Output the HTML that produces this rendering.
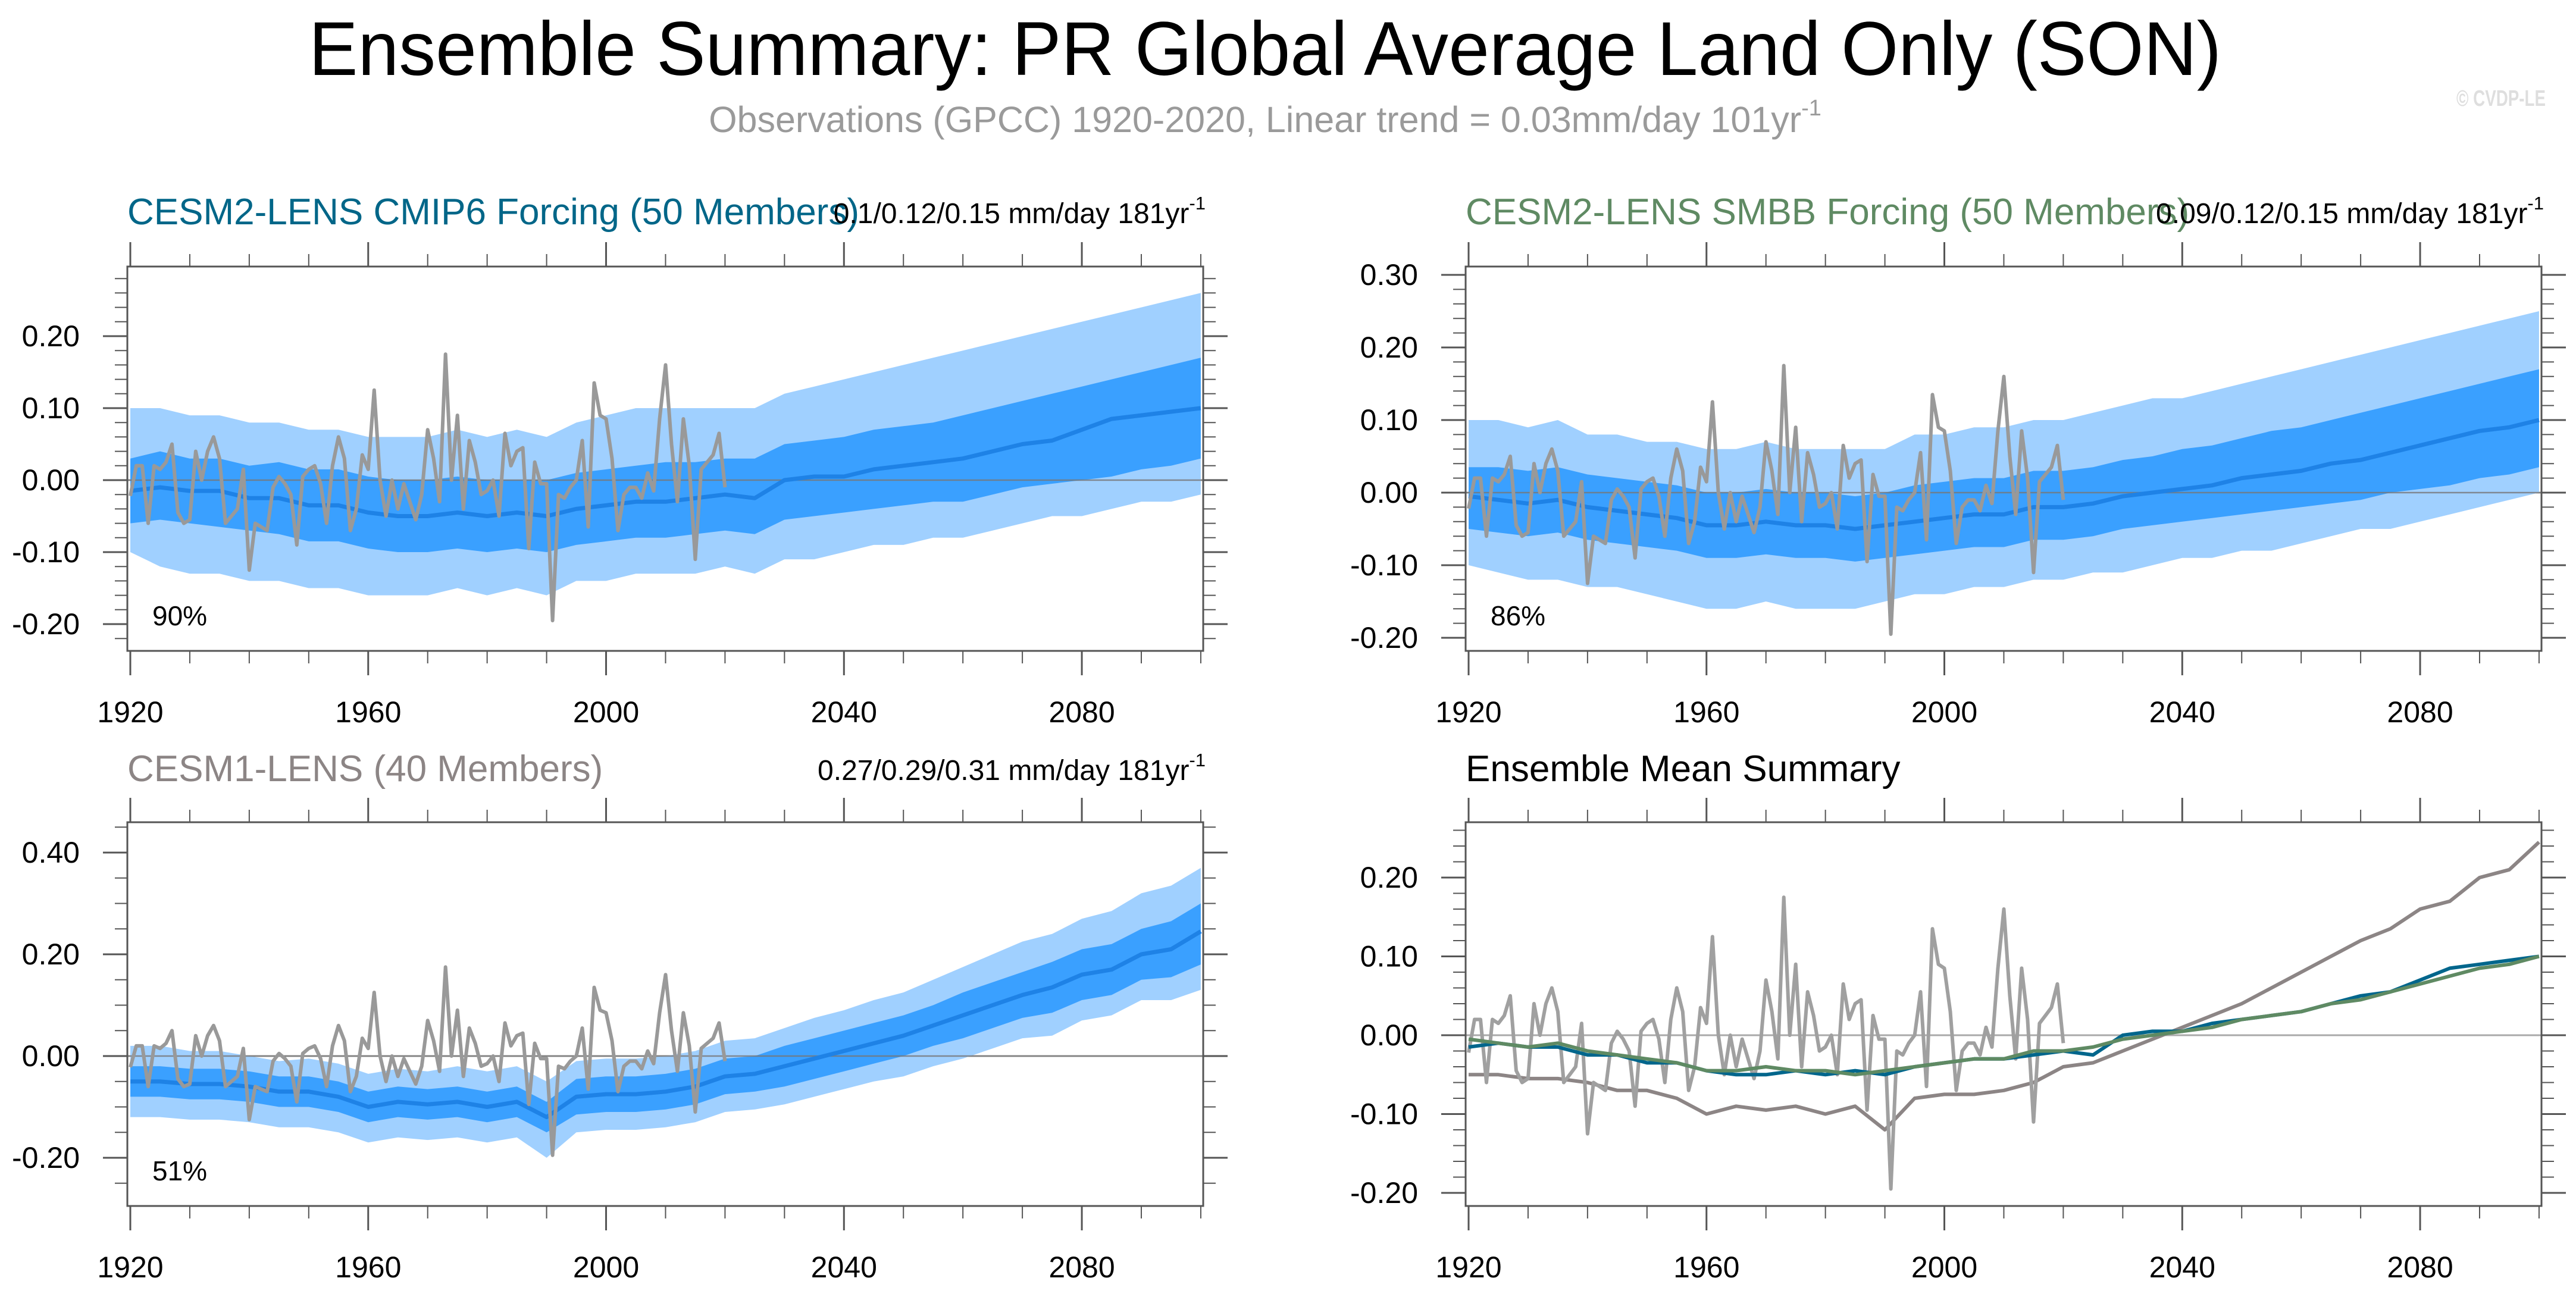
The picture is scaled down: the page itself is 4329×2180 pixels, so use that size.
<!DOCTYPE html>
<html><head><meta charset="utf-8"><style>
html,body{margin:0;padding:0;background:#fff;}
svg{display:block;font-family:"Liberation Sans",Arial,sans-serif;}
</style></head><body>
<svg id="chart" xmlns="http://www.w3.org/2000/svg" width="4329" height="2180" viewBox="0 0 4329 2180">
<rect width="4329" height="2180" fill="#fff"/>
<text x="2126" y="126" font-size="128" text-anchor="middle" textLength="3214" lengthAdjust="spacingAndGlyphs">Ensemble Summary: PR Global Average Land Only (SON)</text>
<text x="2126" y="222" font-size="61" fill="#9a9a9a" text-anchor="middle">Observations (GPCC) 1920-2020, Linear trend = 0.03mm/day 101yr<tspan font-size="38" dy="-28">-1</tspan></text>
<text x="4278" y="178" font-size="38" font-weight="bold" fill="#dedede" text-anchor="end" textLength="150" lengthAdjust="spacingAndGlyphs">© CVDP-LE</text>
<g id="panels"></g>
</svg>
<script>
const bandYears=[1920,1925,1930,1935,1940,1945,1950,1955,1960,1965,1970,1975,1980,1985,1990,1995,2000,2005,2010,2015,2020,2025,2030,2035,2040,2045,2050,2055,2060,2065,2070,2075,2080,2085,2090,2095,2100];
const obsValues=[-0.022,0.02,0.02,-0.06,0.02,0.015,0.025,0.05,-0.045,-0.06,-0.055,0.04,0.0,0.04,0.06,0.03,-0.06,-0.05,-0.04,0.015,-0.125,-0.06,-0.065,-0.07,-0.01,0.005,-0.005,-0.02,-0.09,0.005,0.015,0.02,-0.005,-0.06,0.02,0.06,0.03,-0.07,-0.04,0.035,0.015,0.125,0.0,-0.05,0.0,-0.04,-0.005,-0.03,-0.055,-0.02,0.07,0.03,-0.03,0.175,0.0,0.09,-0.04,0.055,0.025,-0.02,-0.015,0.0,-0.05,0.065,0.02,0.04,0.045,-0.095,0.025,-0.005,-0.005,-0.195,-0.02,-0.025,-0.01,0.0,0.055,-0.065,0.135,0.09,0.085,0.03,-0.07,-0.02,-0.01,-0.01,-0.025,0.01,-0.015,0.085,0.16,0.05,-0.03,0.085,0.02,-0.11,0.015,0.025,0.035,0.065,-0.01];
// CESM2 CMIP6
const cmip6Mean=[-0.015,-0.01,-0.015,-0.015,-0.025,-0.025,-0.035,-0.035,-0.045,-0.05,-0.05,-0.045,-0.05,-0.045,-0.05,-0.04,-0.035,-0.03,-0.03,-0.025,-0.02,-0.025,0.0,0.005,0.005,0.015,0.02,0.025,0.03,0.04,0.05,0.055,0.07,0.085,0.09,0.095,0.1];
const cmip6InnerHi=[0.03,0.04,0.03,0.03,0.02,0.025,0.015,0.015,0.005,0.0,0.0,0.005,0.0,0.0,0.0,0.01,0.015,0.02,0.025,0.025,0.03,0.03,0.05,0.055,0.06,0.07,0.075,0.08,0.09,0.1,0.11,0.12,0.13,0.14,0.15,0.16,0.17];
const cmip6InnerLo=[-0.06,-0.055,-0.06,-0.065,-0.07,-0.075,-0.085,-0.085,-0.095,-0.1,-0.1,-0.095,-0.1,-0.095,-0.1,-0.09,-0.085,-0.08,-0.08,-0.075,-0.07,-0.075,-0.055,-0.05,-0.045,-0.04,-0.035,-0.03,-0.03,-0.02,-0.01,-0.005,0.0,0.005,0.015,0.02,0.03];
const cmip6OuterHi=[0.1,0.1,0.09,0.09,0.08,0.08,0.07,0.07,0.06,0.06,0.06,0.07,0.06,0.07,0.06,0.08,0.09,0.1,0.1,0.1,0.1,0.1,0.12,0.13,0.14,0.15,0.16,0.17,0.18,0.19,0.2,0.21,0.22,0.23,0.24,0.25,0.26];
const cmip6OuterLo=[-0.1,-0.12,-0.13,-0.13,-0.14,-0.14,-0.15,-0.15,-0.16,-0.16,-0.16,-0.15,-0.16,-0.15,-0.16,-0.14,-0.14,-0.13,-0.13,-0.13,-0.12,-0.13,-0.11,-0.11,-0.1,-0.09,-0.09,-0.08,-0.08,-0.07,-0.06,-0.05,-0.05,-0.04,-0.03,-0.03,-0.02];
// CESM2 SMBB
const smbbMean=[-0.005,-0.01,-0.015,-0.01,-0.02,-0.025,-0.03,-0.035,-0.045,-0.045,-0.04,-0.045,-0.045,-0.05,-0.045,-0.04,-0.035,-0.03,-0.03,-0.02,-0.02,-0.015,-0.005,0.0,0.005,0.01,0.02,0.025,0.03,0.04,0.045,0.055,0.065,0.075,0.085,0.09,0.1];
const smbbInnerHi=[0.035,0.035,0.03,0.035,0.025,0.02,0.015,0.01,0.0,0.0,0.005,0.0,0.0,-0.005,0.0,0.01,0.015,0.02,0.02,0.03,0.03,0.035,0.045,0.05,0.06,0.065,0.075,0.085,0.09,0.1,0.11,0.12,0.13,0.14,0.15,0.16,0.17];
const smbbInnerLo=[-0.05,-0.055,-0.06,-0.055,-0.065,-0.07,-0.075,-0.08,-0.09,-0.09,-0.085,-0.09,-0.09,-0.095,-0.09,-0.085,-0.08,-0.075,-0.075,-0.065,-0.065,-0.06,-0.05,-0.045,-0.04,-0.035,-0.03,-0.025,-0.02,-0.015,-0.01,0.0,0.005,0.01,0.02,0.025,0.035];
const smbbOuterHi=[0.1,0.1,0.09,0.1,0.08,0.08,0.07,0.07,0.06,0.06,0.07,0.06,0.06,0.06,0.06,0.08,0.08,0.09,0.09,0.1,0.1,0.11,0.12,0.13,0.13,0.14,0.15,0.16,0.17,0.18,0.19,0.2,0.21,0.22,0.23,0.24,0.25];
const smbbOuterLo=[-0.1,-0.11,-0.12,-0.12,-0.13,-0.13,-0.14,-0.15,-0.16,-0.16,-0.15,-0.16,-0.16,-0.16,-0.15,-0.14,-0.14,-0.13,-0.13,-0.12,-0.12,-0.11,-0.11,-0.1,-0.09,-0.09,-0.08,-0.08,-0.07,-0.06,-0.05,-0.05,-0.04,-0.03,-0.02,-0.01,0.0];
// CESM1
const cesm1Mean=[-0.05,-0.05,-0.055,-0.055,-0.06,-0.07,-0.07,-0.08,-0.1,-0.09,-0.095,-0.09,-0.1,-0.09,-0.12,-0.08,-0.075,-0.075,-0.07,-0.06,-0.04,-0.035,-0.02,-0.005,0.01,0.025,0.04,0.06,0.08,0.1,0.12,0.135,0.16,0.17,0.2,0.21,0.245];
const cesm1InnerHi=[-0.02,-0.02,-0.025,-0.025,-0.03,-0.04,-0.04,-0.05,-0.07,-0.06,-0.065,-0.06,-0.07,-0.06,-0.09,-0.045,-0.04,-0.04,-0.035,-0.025,-0.005,0.0,0.02,0.035,0.05,0.065,0.08,0.1,0.125,0.145,0.165,0.185,0.21,0.22,0.25,0.265,0.3];
const cesm1InnerLo=[-0.08,-0.08,-0.085,-0.085,-0.09,-0.1,-0.1,-0.11,-0.13,-0.12,-0.125,-0.12,-0.13,-0.12,-0.15,-0.115,-0.11,-0.11,-0.105,-0.095,-0.075,-0.07,-0.06,-0.045,-0.03,-0.015,0.0,0.02,0.035,0.055,0.075,0.085,0.11,0.12,0.15,0.155,0.18];
const cesm1OuterHi=[0.02,0.02,0.01,0.01,0.0,-0.01,-0.005,-0.015,-0.035,-0.025,-0.03,-0.02,-0.03,-0.02,-0.05,-0.01,-0.005,-0.005,0.0,0.01,0.03,0.035,0.055,0.075,0.09,0.11,0.125,0.15,0.175,0.2,0.225,0.24,0.27,0.285,0.32,0.335,0.37];
const cesm1OuterLo=[-0.12,-0.12,-0.125,-0.125,-0.13,-0.14,-0.14,-0.15,-0.17,-0.16,-0.165,-0.16,-0.17,-0.16,-0.2,-0.15,-0.145,-0.145,-0.14,-0.13,-0.11,-0.105,-0.095,-0.08,-0.065,-0.05,-0.04,-0.02,-0.005,0.015,0.035,0.04,0.07,0.08,0.11,0.11,0.13];
// axis tick labels
const xTickLabels=[1920,1960,2000,2040,2080];
const yTicksTL=[-0.2,-0.1,0,0.1,0.2];
const yTicksTR=[-0.2,-0.1,0,0.1,0.2,0.3];
const yTicksBL=[-0.2,0,0.2,0.4];
const yTicksBR=[-0.2,-0.1,0,0.1,0.2];

const NS='http://www.w3.org/2000/svg';
const root=document.getElementById('panels');
function mk(tag,attrs,parent){const e=document.createElementNS(NS,tag);for(const k in attrs)e.setAttribute(k,attrs[k]);(parent||root).appendChild(e);return e;}
const obsYears=obsValues.map((v,i)=>1920+i);

function panel(cfg){
  const g=mk('g',{});
  
  
  const bx0=cfg.ox-5,bx1=cfg.ox+1803,by0=cfg.top,by1=cfg.bottom;
  const X=y=>cfg.ox+(y-1920)*9.994;
  const Y=v=>cfg.zero-v*cfg.ppu;
  const ymin=(cfg.zero-by1)/cfg.ppu, ymax=(cfg.zero-by0)/cfg.ppu;
  const defs=mk('clipPath',{id:'clip-'+cfg.name},g);
  mk('rect',{x:bx0,y:by0,width:bx1-bx0,height:by1-by0},defs);
  const plot=mk('g',{'clip-path':'url(#clip-'+cfg.name+')'},g);
  function band(hi,lo,color,nm){
    let d='';
    bandYears.forEach((yr,i)=>{d+=(i?'L':'M')+X(yr).toFixed(1)+','+Y(hi[i]).toFixed(1);});
    for(let i=bandYears.length-1;i>=0;i--)d+='L'+X(bandYears[i]).toFixed(1)+','+Y(lo[i]).toFixed(1);
    const p=mk('path',{d:d+'Z',fill:color},plot);
    
    
  }
  function line(yrs,vals,color,w,nm){
    const pts=vals.map((v,i)=>X(yrs[i]).toFixed(1)+','+Y(v).toFixed(1)).join(' ');
    const p=mk('polyline',{points:pts,fill:'none',stroke:color,'stroke-width':w,'stroke-linejoin':'round'},plot);
    
    
  }
  const zl=mk('line',{x1:bx0,x2:bx1,y1:Y(0),y2:Y(0),stroke:'#aaa','stroke-width':3},plot);
  
  
  if(cfg.bands){
    band(cfg.bands[0],cfg.bands[1],'#a0d0ff','outer-range-band');
    band(cfg.bands[2],cfg.bands[3],'#3aa0ff','inner-range-band');
    mk('line',{x1:bx0,x2:bx1,y1:Y(0),y2:Y(0),stroke:'#777','stroke-width':2.5,opacity:0.8},plot);
    line(bandYears,cfg.mean,'#1e82e6',7,'ensemble-mean-line');
    line(obsYears,obsValues,'#999999',6,'observations-line');
  }
  if(cfg.lines){cfg.lines.forEach(l=>line(l[0],l[1],l[2],6,l[3]));}
  const box=mk('rect',{x:bx0,y:by0,width:bx1-bx0,height:by1-by0,fill:'none',stroke:'#555','stroke-width':3},g);
  
  
  for(let yr=1920;yr<=2100;yr+=10){
    const major=(yr-1920)%40===0, L=major?41:21, x=X(yr);
    mk('line',{x1:x,x2:x,y1:by0,y2:by0-L,stroke:'#555','stroke-width':major?3:2},g);
    mk('line',{x1:x,x2:x,y1:by1,y2:by1+L,stroke:'#555','stroke-width':major?3:2},g);
  }
  xTickLabels.forEach(yr=>{
    const t=mk('text',{x:X(yr),y:by1+120,'font-size':50,'text-anchor':'middle'},g);
    t.textContent=yr;
    
    
  });
  const st=cfg.minor;
  for(let k=Math.ceil(ymin/st-1e-6);k*st<=ymax+1e-9;k++){
    const v=k*st, y=Y(v);
    const isMaj=cfg.yticks.some(m=>Math.abs(m-v)<1e-6), L=isMaj?41:21;
    mk('line',{x1:bx0,x2:bx0-L,y1:y,y2:y,stroke:'#555','stroke-width':isMaj?3:2},g);
    mk('line',{x1:bx1,x2:bx1+L,y1:y,y2:y,stroke:'#555','stroke-width':isMaj?3:2},g);
  }
  cfg.yticks.forEach(v=>{
    const t=mk('text',{x:bx0-80,y:Y(v)+17,'font-size':50,'text-anchor':'end'},g);
    t.textContent=v.toFixed(2);
    
    
  });
  const tt=mk('text',{x:bx0,y:cfg.titleY,'font-size':62,fill:cfg.titleColor},g);
  tt.textContent=cfg.title;
  
  
  if(cfg.trend){
    const tr=mk('text',{x:bx1+4,y:cfg.titleY-2,'font-size':48,'text-anchor':'end'},g);
    tr.textContent=cfg.trend;
    const sp=mk('tspan',{'font-size':31,dy:-23},tr);
    sp.textContent='-1';
    
    
  }
  if(cfg.pct){
    const p=mk('text',{x:bx0+42,y:by1-43,'font-size':46},g);
    p.textContent=cfg.pct;
    
    
  }
}
panel({name:'panel-cesm2-cmip6',ox:219,top:448,bottom:1094,zero:807,ppu:1210,minor:0.02,yticks:yTicksTL,
  bands:[cmip6OuterHi,cmip6OuterLo,cmip6InnerHi,cmip6InnerLo],mean:cmip6Mean,
  title:'CESM2-LENS CMIP6 Forcing (50 Members)',titleColor:'#006688',titleY:377,trend:'0.1/0.12/0.15 mm/day 181yr',pct:'90%'});
panel({name:'panel-cesm2-smbb',ox:2468,top:448,bottom:1094,zero:828,ppu:1220,minor:0.02,yticks:yTicksTR,
  bands:[smbbOuterHi,smbbOuterLo,smbbInnerHi,smbbInnerLo],mean:smbbMean,
  title:'CESM2-LENS SMBB Forcing (50 Members)',titleColor:'#5f8a63',titleY:377,trend:'0.09/0.12/0.15 mm/day 181yr',pct:'86%'});
panel({name:'panel-cesm1',ox:219,top:1382,bottom:2027,zero:1775,ppu:855,minor:0.05,yticks:yTicksBL,
  bands:[cesm1OuterHi,cesm1OuterLo,cesm1InnerHi,cesm1InnerLo],mean:cesm1Mean,
  title:'CESM1-LENS (40 Members)',titleColor:'#8c8585',titleY:1313,trend:'0.27/0.29/0.31 mm/day 181yr',pct:'51%'});
panel({name:'panel-ensemble-mean-summary',ox:2468,top:1382,bottom:2027,zero:1740,ppu:1325,minor:0.02,yticks:yTicksBR,
  lines:[[bandYears,cesm1Mean,'#8c8585','cesm1-mean-line'],[obsYears,obsValues,'#a0a0a0','observations-line'],[bandYears,cmip6Mean,'#00668c','cmip6-mean-line'],[bandYears,smbbMean,'#5f8a63','smbb-mean-line']],
  title:'Ensemble Mean Summary',titleColor:'#000',titleY:1313});
</script>
</body></html>
